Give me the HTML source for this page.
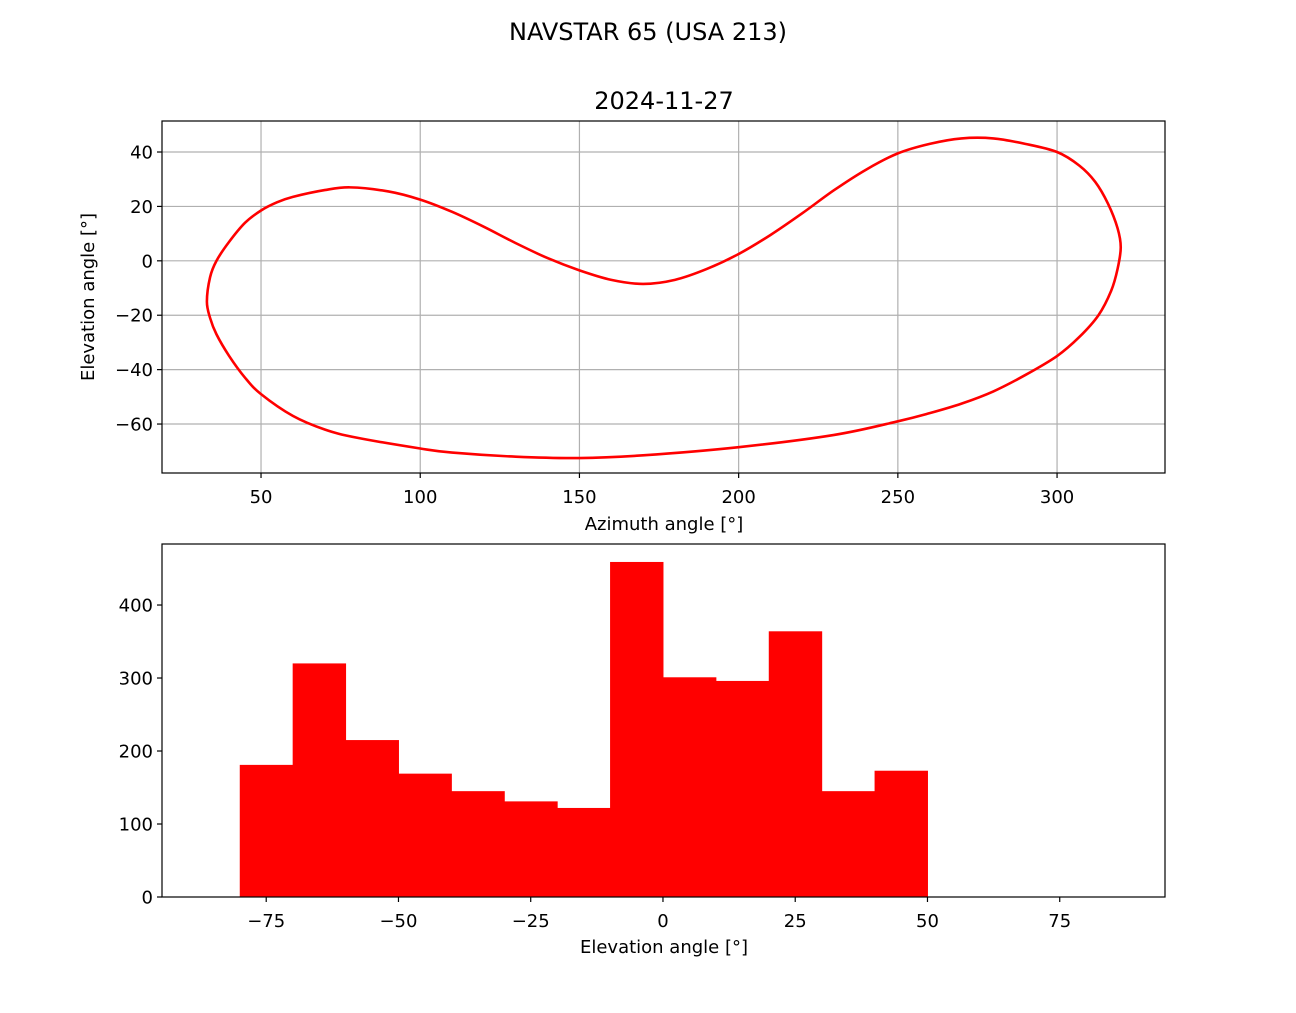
<!DOCTYPE html>
<html><head><meta charset="utf-8"><style>
html,body{margin:0;padding:0;background:#fff;}
svg text{font-family:"DejaVu Sans","Liberation Sans",sans-serif;fill:#000;}
</style></head><body>
<svg id="fig" width="1296" height="1008" viewBox="0 0 1296 1008" xmlns="http://www.w3.org/2000/svg">
<rect width="1296" height="1008" fill="#fff"/>
<text x="648" y="40" font-size="24" text-anchor="middle">NAVSTAR 65 (USA 213)</text>
<text x="664" y="109" font-size="24" text-anchor="middle">2024-11-27</text>
<g id="topG"></g>
<g id="botG"></g>
<text x="664" y="530" font-size="18" text-anchor="middle">Azimuth angle [°]</text>
<text transform="translate(94,297) rotate(-90)" font-size="18" text-anchor="middle">Elevation angle [°]</text>
<text x="664" y="953" font-size="18" text-anchor="middle">Elevation angle [°]</text>
</svg>
<script>
const azimuth=[33,34,36,40,45,50,55,60,70,78,90,100,110,120,130,140,150,160,170,180,190,200,210,220,230,240,250,260,270,280,290,300,307,312,316,319,320,319,317,313,307,300,290,280,270,260,250,230,200,170,150,130,110,100,80,70,60,50,45,40,36,34,33];
const elevation=[-15,-6,0,7,14,18.5,21.5,23.5,26,27,25.5,22.5,18,12.5,6.5,1,-3.5,-7,-8.5,-7,-3,2.5,9.5,17.5,26,33.5,39.5,43,45,45,43,40,35,29,21,12,5,-3,-11,-20,-28,-35,-42,-48,-52.5,-56,-59,-64,-68.5,-71.5,-72.5,-72,-70.5,-69,-65,-62,-57,-49,-43,-35,-27,-21,-15];
const topXTicks=[50,100,150,200,250,300];
const topYTicks=[40,20,0,-20,-40,-60];
const binEdges=[-80,-70,-60,-50,-40,-30,-20,-10,0,10,20,30,40,50];
const counts=[181,320,215,169,145,131,122,459,301,296,364,145,173];
const botXTicks=[-75,-50,-25,0,25,50,75];
const botYTicks=[0,100,200,300,400];
const NS="http://www.w3.org/2000/svg";
function mk(t,a,p){const e=document.createElementNS(NS,t);for(const k in a)e.setAttribute(k,a[k]);p.appendChild(e);return e;}
const T={l:162,r:1165,t:121,b:473,x0:18.9,x1:333.9,y0:-78.0,y1:51.4};
const tx=v=>T.l+(v-T.x0)/(T.x1-T.x0)*(T.r-T.l);
const ty=v=>T.b-(v-T.y0)/(T.y1-T.y0)*(T.b-T.t);
const topG=document.getElementById('topG');
topXTicks.forEach(v=>{const x=tx(v);
 const g=mk('line',{x1:x,x2:x,y1:T.t,y2:T.b,stroke:'#b0b0b0','stroke-width':1.2},topG);
 
 mk('line',{x1:x,x2:x,y1:T.b,y2:T.b+5,stroke:'#000','stroke-width':1.2},topG);
 const t=mk('text',{x:x,y:T.b+30,'font-size':18,'text-anchor':'middle'},topG);t.textContent=v;
 });
topYTicks.forEach(v=>{const y=ty(v);
 const g=mk('line',{x1:T.l,x2:T.r,y1:y,y2:y,stroke:'#b0b0b0','stroke-width':1.2},topG);
 
 mk('line',{x1:T.l-5,x2:T.l,y1:y,y2:y,stroke:'#000','stroke-width':1.2},topG);
 const t=mk('text',{x:T.l-9,y:y+6.5,'font-size':18,'text-anchor':'end'},topG);t.textContent=String(v).replace('-','\u2212');
 });
const P=azimuth.map((a,i)=>[tx(a),ty(elevation[i])]);
let d='M'+P[0][0]+','+P[0][1];
const n=P.length;
for(let i=0;i<n-1;i++){const p0=P[i===0?n-2:i-1],p1=P[i],p2=P[i+1],p3=P[i+2<n?i+2:1];
 d+=' C'+(p1[0]+(p2[0]-p0[0])/6)+','+(p1[1]+(p2[1]-p0[1])/6)+' '+(p2[0]-(p3[0]-p1[0])/6)+','+(p2[1]-(p3[1]-p1[1])/6)+' '+p2[0]+','+p2[1];}
const path=mk('path',{d:d,fill:'none',stroke:'#ff0000','stroke-width':2.6},topG);


const tf=mk('rect',{x:T.l,y:T.t,width:T.r-T.l,height:T.b-T.t,fill:'none',stroke:'#000','stroke-width':1.2},topG);


const B={l:162,r:1165,t:544,b:897,x0:-94.7,x1:94.9,y0:0,y1:483.6};
const bx=v=>B.l+(v-B.x0)/(B.x1-B.x0)*(B.r-B.l);
const by=v=>B.b-(v-B.y0)/(B.y1-B.y0)*(B.b-B.t);
const botG=document.getElementById('botG');
counts.forEach((c,i)=>{const x0=bx(binEdges[i]),x1=bx(binEdges[i+1]);
 const r=mk('rect',{x:x0,y:by(c),width:x1-x0+0.5,height:by(0)-by(c),fill:'#ff0000'},botG);
 
 });
botXTicks.forEach(v=>{const x=bx(v);
 mk('line',{x1:x,x2:x,y1:B.b,y2:B.b+5,stroke:'#000','stroke-width':1.2},botG);
 const t=mk('text',{x:x,y:B.b+30,'font-size':18,'text-anchor':'middle'},botG);t.textContent=String(v).replace('-','\u2212');
 });
botYTicks.forEach(v=>{const y=by(v);
 mk('line',{x1:B.l-5,x2:B.l,y1:y,y2:y,stroke:'#000','stroke-width':1.2},botG);
 const t=mk('text',{x:B.l-9,y:y+6.5,'font-size':18,'text-anchor':'end'},botG);t.textContent=v;
 });
const bf=mk('rect',{x:B.l,y:B.t,width:B.r-B.l,height:B.b-B.t,fill:'none',stroke:'#000','stroke-width':1.2},botG);


</script>
</body></html>
